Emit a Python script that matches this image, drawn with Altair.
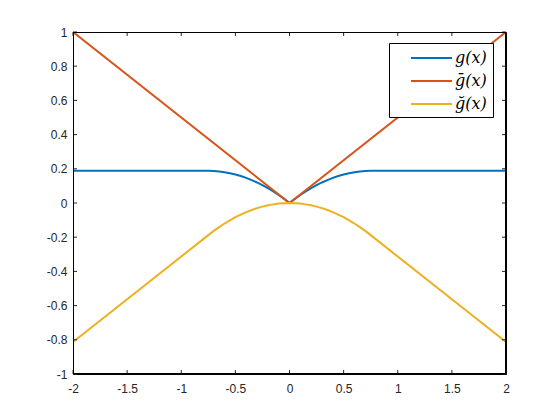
import altair as alt
import pandas as pd

series = ["g(x)", "ḡ(x)", "ğ(x)"]
colors = ["#0072BD", "#D95319", "#EDB120"]

x_curve = [-2, -0.75, -0.7, -0.65, -0.6, -0.55, -0.5, -0.45, -0.4, -0.35, -0.3, -0.25, -0.2, -0.15, -0.1, -0.05,
           0, 0.05, 0.1, 0.15, 0.2, 0.25, 0.3, 0.35, 0.4, 0.45, 0.5, 0.55, 0.6, 0.65, 0.7, 0.75, 2]
g_vals = [0.188, 0.188, 0.187, 0.184, 0.18, 0.174, 0.167, 0.158, 0.147, 0.134, 0.12, 0.104, 0.087, 0.068, 0.047, 0.024,
          0, 0.024, 0.047, 0.068, 0.087, 0.104, 0.12, 0.134, 0.147, 0.158, 0.167, 0.174, 0.18, 0.184, 0.187, 0.188, 0.188]
gbar_x = [-2, 0, 2]
gbar_vals = [1, 0, 1]
gbreve_vals = [-0.813, -0.188, -0.163, -0.141, -0.12, -0.101, -0.083, -0.068, -0.053, -0.041, -0.03, -0.021, -0.013, -0.008, -0.003, -0.001,
               0, -0.001, -0.003, -0.008, -0.013, -0.021, -0.03, -0.041, -0.053, -0.068, -0.083, -0.101, -0.12, -0.141, -0.163, -0.188, -0.813]

x_ticks = [-2, -1.5, -1, -0.5, 0, 0.5, 1, 1.5, 2]
y_ticks = [-1, -0.8, -0.6, -0.4, -0.2, 0, 0.2, 0.4, 0.6, 0.8, 1]

W, H = 433, 342
TICK = 4
INK = "#262626"

rows = []
for xv, yv in zip(x_curve, g_vals):
    rows.append({"x": xv, "y": yv, "series": series[0], "k": 0})
for xv, yv in zip(gbar_x, gbar_vals):
    rows.append({"x": xv, "y": yv, "series": series[1], "k": 1})
for xv, yv in zip(x_curve, gbreve_vals):
    rows.append({"x": xv, "y": yv, "series": series[2], "k": 2})
df = pd.DataFrame(rows)

xscale = alt.Scale(domain=[-2, 2], nice=False, zero=False)
yscale = alt.Scale(domain=[-1, 1], nice=False, zero=False)
cscale = alt.Scale(domain=series, range=colors)

x_axis = alt.Axis(values=x_ticks, labelExpr="'' + datum.value", ticks=False, domain=False,
                  grid=False, labelPadding=9, labelFont="Liberation Sans", labelFontSize=12,
                  labelColor=INK, labelFlush=False, labelOverlap=False, title=None)
y_axis = alt.Axis(values=y_ticks, labelExpr="'' + datum.value", ticks=False, domain=False,
                  grid=False, labelPadding=6, labelFont="Liberation Sans", labelFontSize=12,
                  labelColor=INK, labelFlush=False, labelOverlap=False, title=None)

layers = []
for i, s in enumerate(series):
    layers.append(
        alt.Chart(df).transform_filter(alt.datum.k == i).mark_line(strokeWidth=2, clip=True).encode(
            x=alt.X("x:Q", scale=xscale, axis=x_axis),
            y=alt.Y("y:Q", scale=yscale, axis=y_axis),
            color=alt.Color("series:N", scale=cscale, legend=None),
        )
    )

xt = pd.DataFrame({"x": x_ticks})
yt = pd.DataFrame({"y": y_ticks})
one = pd.DataFrame({"x": [0]})

frame_layers = [
    alt.Chart(one).mark_rule(color="black", strokeWidth=1).encode(
        x=alt.value(0.5), y=alt.value(0), y2=alt.value(H)),
    alt.Chart(one).mark_rule(color="black", strokeWidth=1).encode(
        x=alt.value(W - 0.5), y=alt.value(0), y2=alt.value(H)),
    alt.Chart(one).mark_rule(color="black", strokeWidth=1).encode(
        y=alt.value(0.5), x=alt.value(0), x2=alt.value(W)),
    alt.Chart(one).mark_rule(color="black", strokeWidth=1).encode(
        y=alt.value(H - 0.5), x=alt.value(0), x2=alt.value(W)),
]

tick_layers = [
    alt.Chart(xt).mark_rule(color=INK, strokeWidth=1).encode(
        x=alt.X("x:Q", scale=xscale, axis=x_axis), y=alt.value(H), y2=alt.value(H - TICK)),
    alt.Chart(xt).mark_rule(color=INK, strokeWidth=1).encode(
        x=alt.X("x:Q", scale=xscale, axis=x_axis), y=alt.value(0), y2=alt.value(TICK)),
    alt.Chart(yt).mark_rule(color=INK, strokeWidth=1).encode(
        y=alt.Y("y:Q", scale=yscale, axis=y_axis), x=alt.value(0), x2=alt.value(TICK)),
    alt.Chart(yt).mark_rule(color=INK, strokeWidth=1).encode(
        y=alt.Y("y:Q", scale=yscale, axis=y_axis), x=alt.value(W), x2=alt.value(W - TICK)),
]

# legend box (drawn manually, MATLAB style)
LX0, LY0, LX1, LY1 = 316.5, 11.5, 420.5, 85.5
ROW0, ROWSTEP = 26, 23
legend_layers = [
    alt.Chart(one).mark_rect(fill="white", stroke="black", strokeWidth=1).encode(
        x=alt.value(LX0), x2=alt.value(LX1), y=alt.value(LY0), y2=alt.value(LY1))
]
for i, (s, c) in enumerate(zip(series, colors)):
    yy = ROW0 + ROWSTEP * i
    legend_layers.append(
        alt.Chart(one).mark_rule(color=c, strokeWidth=2).encode(
            x=alt.value(338), x2=alt.value(379), y=alt.value(yy)))
    legend_layers.append(
        alt.Chart(one).mark_text(text=s, align="left", baseline="middle", font="DejaVu Serif",
                                 fontStyle="italic", fontSize=16, color="black").encode(
            x=alt.value(382), y=alt.value(yy)))

chart = alt.layer(*layers, *tick_layers, *frame_layers, *legend_layers).properties(
    width=W, height=H,
    autosize=alt.AutoSizeParams(type="none"),
    padding={"left": 65, "top": 24, "right": 5, "bottom": 40},
    background="white",
).configure_view(stroke="black", strokeWidth=1)

chart.save("out.html", embed_options={"renderer": "svg", "actions": False})
